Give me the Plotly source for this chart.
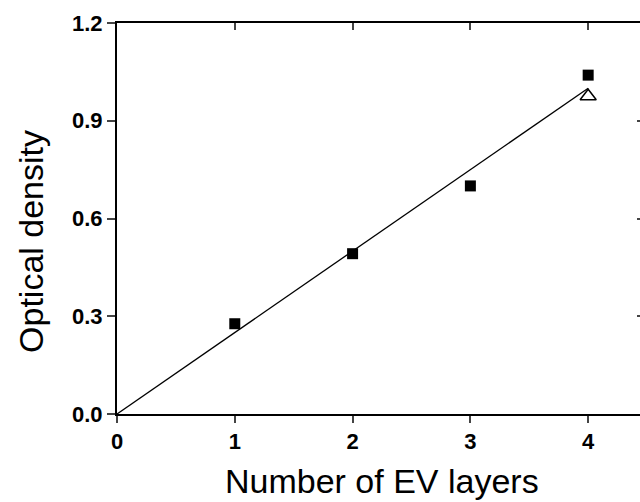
import plotly.graph_objects as go

layers = [1, 2, 3, 4]
od_squares = [0.277, 0.492, 0.700, 1.040]
tri_x = [4]
tri_y = [0.975]
fit_x = [0, 4]
fit_y = [0.0, 1.0]

x_ticks = [0, 1, 2, 3, 4]
y_ticks = [0.0, 0.3, 0.6, 0.9, 1.2]
y_tick_text = ["0.0", "0.3", "0.6", "0.9", "1.2"]

FONT = "Liberation Sans, Arial, sans-serif"

fig = go.Figure()
fig.add_trace(go.Scatter(x=fit_x, y=fit_y, mode="lines",
                         line=dict(color="black", width=1.3), showlegend=False))
fig.add_trace(go.Scatter(x=layers, y=od_squares, mode="markers",
                         marker=dict(symbol="square", size=11, color="black"),
                         showlegend=False))
fig.add_trace(go.Scatter(x=tri_x, y=tri_y, mode="markers",
                         marker=dict(symbol="triangle-up-open", size=14, color="black",
                                     line=dict(width=1.5, color="black")),
                         showlegend=False))
# invisible trace to activate mirror axes
fig.add_trace(go.Scatter(x=[0], y=[0], xaxis="x2", yaxis="y2", mode="markers",
                         marker=dict(opacity=0), showlegend=False, hoverinfo="skip"))

xr = [0, 4.44]
yr = [0, 1.2]

fig.update_layout(
    width=640, height=502,
    margin=dict(l=117, r=0, t=23, b=88),
    paper_bgcolor="white", plot_bgcolor="white",
    font=dict(family=FONT, color="black"),
    xaxis=dict(range=xr, tickvals=x_ticks, ticks="outside", ticklen=7, tickwidth=2,
               showline=True, linewidth=2, linecolor="black", showgrid=False, zeroline=False,
               tickfont=dict(size=22, family=FONT, weight="bold", color="black")),
    yaxis=dict(range=yr, tickvals=y_ticks, ticktext=y_tick_text, ticks="outside", ticklen=8,
               tickwidth=2, showline=True, linewidth=2, linecolor="black", showgrid=False,
               zeroline=False,
               tickfont=dict(size=22, family=FONT, weight="bold", color="black")),
    xaxis2=dict(range=xr, overlaying="x", side="top", tickvals=x_ticks, ticks="inside",
                ticklen=7, tickwidth=2, showline=True, linewidth=2, linecolor="black",
                showticklabels=False, showgrid=False, zeroline=False),
    yaxis2=dict(range=yr, overlaying="y", side="right", tickvals=y_ticks, ticks="inside",
                ticklen=3, tickwidth=2, showline=False, showticklabels=False,
                showgrid=False, zeroline=False),
    annotations=[
        dict(text="Number of EV layers", xref="paper", yref="paper",
             x=0.507, y=-0.171, xanchor="center", yanchor="middle", showarrow=False,
             font=dict(size=34, family=FONT, color="black")),
        dict(text="Optical density", xref="paper", yref="paper", textangle=-90,
             x=-0.1644, y=0.44, xanchor="center", yanchor="middle", showarrow=False,
             font=dict(size=34, family=FONT, color="black")),
    ],
)

fig.write_html("out.html")
